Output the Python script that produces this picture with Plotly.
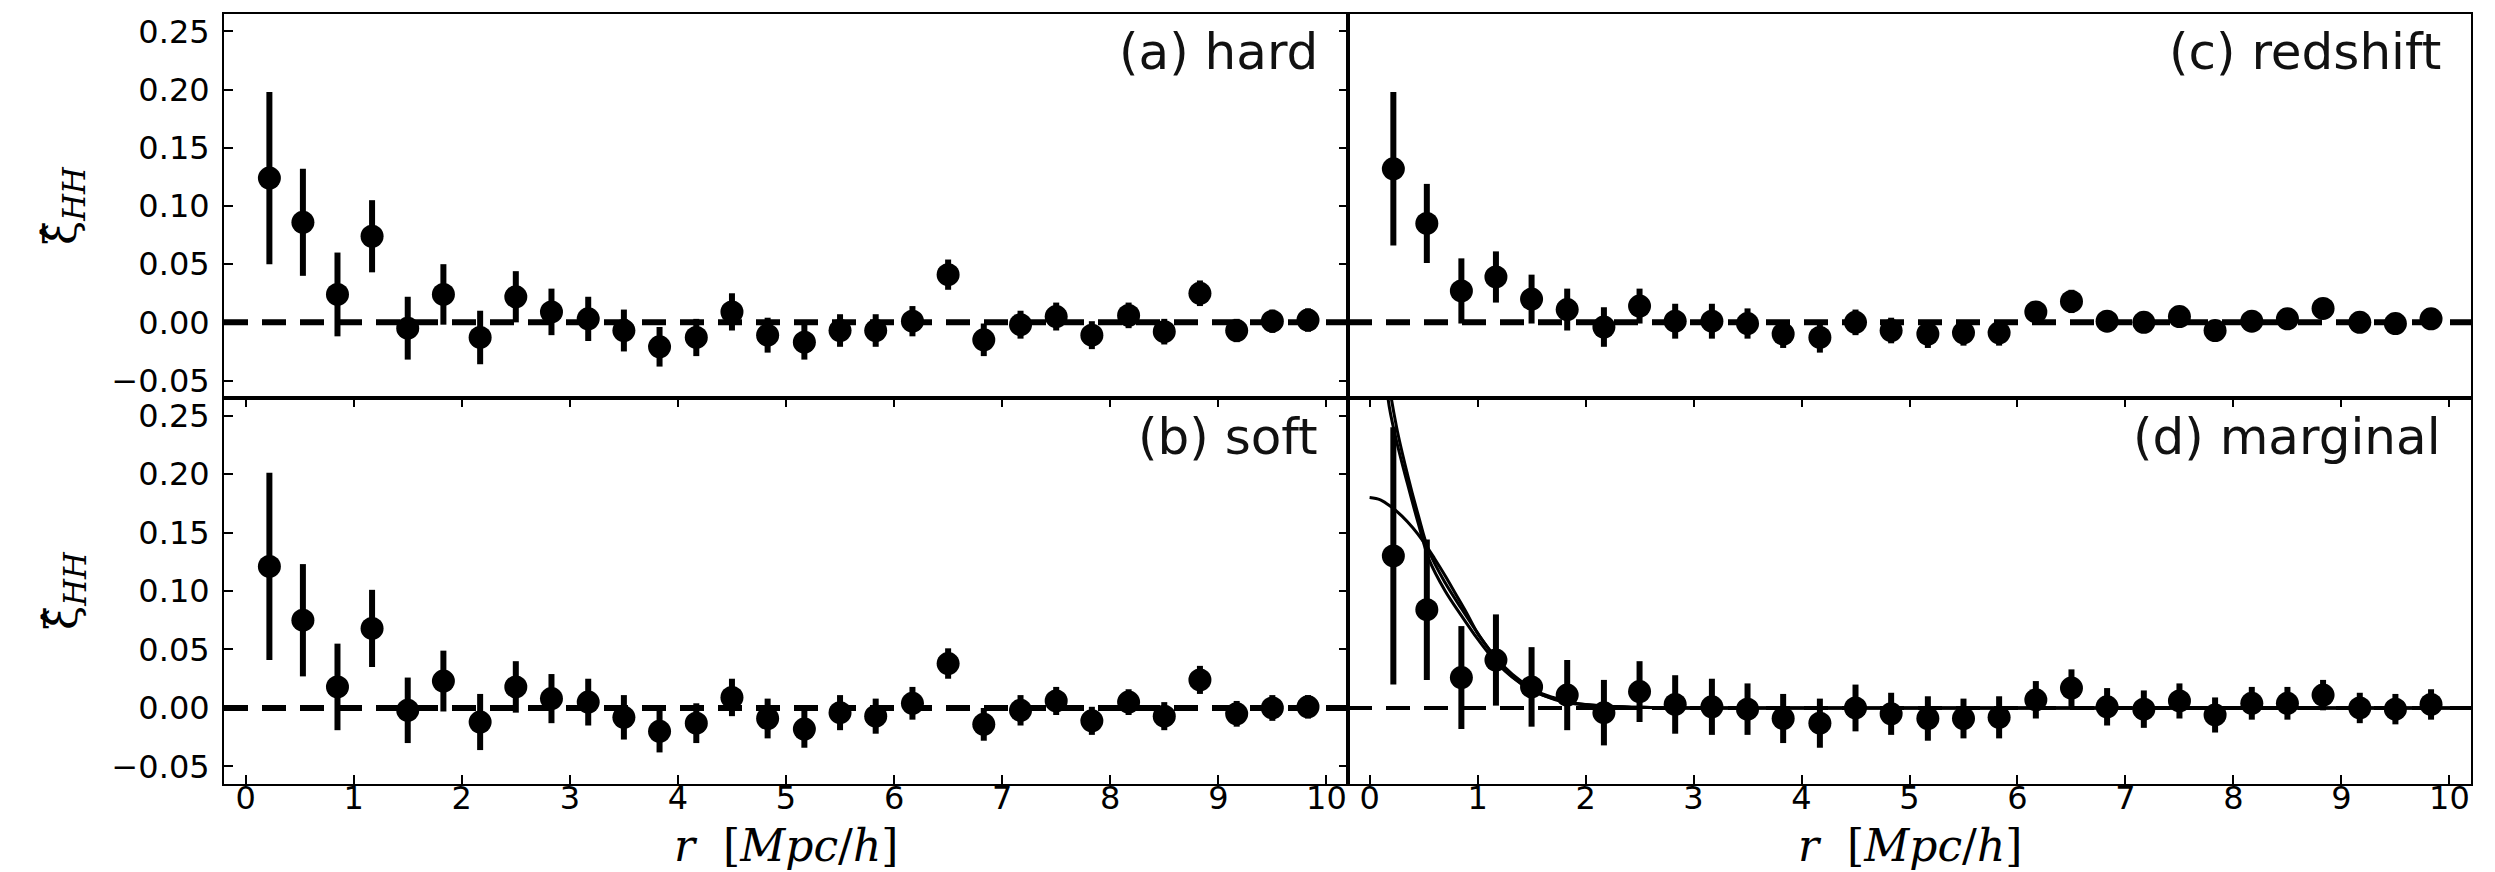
import plotly.graph_objects as go
from plotly.subplots import make_subplots

# separation bins [Mpc/h]
r_bins = [0.22, 0.53, 0.85, 1.17, 1.50, 1.83, 2.17, 2.50, 2.83, 3.17,
          3.50, 3.83, 4.17, 4.50, 4.83, 5.17, 5.50, 5.83, 6.17, 6.50,
          6.83, 7.17, 7.50, 7.83, 8.17, 8.50, 8.83, 9.17, 9.50, 9.83]

# (a) hard
xi_hard = [0.124, 0.086, 0.024, 0.074, -0.005, 0.024, -0.013, 0.022, 0.009, 0.003,
           -0.007, -0.021, -0.013, 0.009, -0.011, -0.017, -0.007, -0.007, 0.001, 0.041,
           -0.015, -0.002, 0.005, -0.011, 0.006, -0.008, 0.025, -0.007, 0.001, 0.002]
err_hard = [0.074, 0.046, 0.036, 0.031, 0.027, 0.026, 0.023, 0.022, 0.020, 0.019,
            0.018, 0.017, 0.016, 0.016, 0.015, 0.015, 0.014, 0.014, 0.013, 0.013,
            0.014, 0.012, 0.012, 0.012, 0.011, 0.011, 0.011, 0.010, 0.010, 0.010]

# (b) soft
xi_soft = [0.121, 0.075, 0.018, 0.068, -0.002, 0.023, -0.012, 0.018, 0.008, 0.005,
           -0.008, -0.020, -0.013, 0.009, -0.009, -0.018, -0.004, -0.007, 0.004, 0.038,
           -0.014, -0.002, 0.006, -0.011, 0.005, -0.007, 0.024, -0.005, 0.000, 0.001]
err_soft = [0.080, 0.048, 0.037, 0.033, 0.028, 0.026, 0.024, 0.022, 0.021, 0.020,
            0.019, 0.018, 0.017, 0.016, 0.017, 0.016, 0.015, 0.015, 0.014, 0.013,
            0.014, 0.013, 0.012, 0.012, 0.011, 0.012, 0.012, 0.011, 0.011, 0.010]

# (c) redshift
xi_redshift = [0.132, 0.085, 0.027, 0.039, 0.020, 0.011, -0.004, 0.014, 0.001, 0.001,
               -0.001, -0.010, -0.013, 0.000, -0.007, -0.010, -0.009, -0.009, 0.009, 0.018,
               0.001, 0.000, 0.005, -0.007, 0.001, 0.003, 0.012, 0.000, -0.001, 0.003]
err_redshift = [0.066, 0.034, 0.028, 0.022, 0.021, 0.018, 0.017, 0.015, 0.015, 0.015,
                0.013, 0.012, 0.013, 0.011, 0.011, 0.012, 0.011, 0.011, 0.009, 0.010,
                0.008, 0.008, 0.008, 0.007, 0.007, 0.007, 0.008, 0.007, 0.006, 0.006]

# (d) marginal
xi_marginal = [0.130, 0.084, 0.026, 0.041, 0.018, 0.011, -0.004, 0.014, 0.003, 0.001,
               -0.001, -0.009, -0.013, 0.000, -0.005, -0.009, -0.009, -0.008, 0.007, 0.017,
               0.001, -0.001, 0.006, -0.006, 0.004, 0.004, 0.011, 0.000, -0.001, 0.003]
err_marginal = [0.110, 0.060, 0.044, 0.039, 0.034, 0.030, 0.028, 0.026, 0.025, 0.024,
                0.022, 0.021, 0.021, 0.020, 0.018, 0.019, 0.017, 0.018, 0.016, 0.016,
                0.016, 0.016, 0.015, 0.015, 0.014, 0.014, 0.013, 0.013, 0.013, 0.013]

# model curves for the marginal panel
gauss_r = [0.0, 0.1, 0.2, 0.3, 0.4, 0.5, 0.6, 0.7, 0.8, 0.9, 1.0, 1.1, 1.2, 1.3,
           1.4, 1.5, 1.6, 1.8, 2.0, 2.2, 2.5, 3.0, 5.0, 10.2]
gauss_xi = [0.180, 0.178, 0.172, 0.164, 0.154, 0.142, 0.128, 0.113, 0.097, 0.081,
            0.064, 0.051, 0.039, 0.029, 0.021, 0.015, 0.011, 0.005, 0.0025, 0.001,
            0.0004, 0.0, 0.0, 0.0]
power_r = [0.12, 0.17, 0.25, 0.35, 0.45, 0.55, 0.70, 0.85, 1.0, 1.1, 1.25, 1.4,
           1.55, 1.7, 1.9, 2.2, 2.6, 3.0, 5.0, 10.2]
power_xi_1 = [0.340, 0.265, 0.228, 0.192, 0.158, 0.127, 0.100, 0.079, 0.059, 0.047,
              0.032, 0.021, 0.013, 0.008, 0.004, 0.0015, 0.0004, 0.0, 0.0, 0.0]
power_xi_2 = [0.360, 0.285, 0.240, 0.200, 0.165, 0.134, 0.107, 0.085, 0.064, 0.051,
              0.035, 0.023, 0.014, 0.009, 0.004, 0.0015, 0.0004, 0.0, 0.0, 0.0]

panels = [
    (1, 1, xi_hard, err_hard, "(a) hard"),
    (1, 2, xi_redshift, err_redshift, "(c) redshift"),
    (2, 1, xi_soft, err_soft, "(b) soft"),
    (2, 2, xi_marginal, err_marginal, "(d) marginal"),
]

x_ticks = list(range(0, 11))
y_ticks = [-0.05, 0.0, 0.05, 0.10, 0.15, 0.20, 0.25]

W, H = 2495, 872
L, R, T, B = 224, 24, 14, 88
PW, PH = W - L - R, H - T - B
x_split = (1348 - L) / PW
y_split = (784 - 398) / PH

fig = make_subplots(rows=2, cols=2, horizontal_spacing=0, vertical_spacing=0)

tick_font = dict(family="DejaVu Sans", size=32, color="black")
axis_ids = {(1, 1): "", (1, 2): "2", (2, 1): "3", (2, 2): "4"}

for row, col, vals, errs, label in panels:
    k = axis_ids[(row, col)]
    # dashed zero reference
    fig.add_shape(type="line", xref=f"x{k} domain", yref=f"y{k}",
                  x0=0, x1=1, y0=0, y1=0, layer="below",
                  line=dict(color="black", width=4 if (row, col) == (2, 2) else 6,
                            dash="24px,14px"))
    fig.add_trace(go.Scatter(
        x=r_bins, y=vals, mode="markers",
        marker=dict(color="black", size=23, line=dict(width=0)),
        error_y=dict(type="data", array=errs, visible=True,
                     color="black", thickness=6, width=0),
        showlegend=False, hoverinfo="skip"), row=row, col=col)

for ys, xs in [(gauss_xi, gauss_r), (power_xi_1, power_r), (power_xi_2, power_r)]:
    fig.add_trace(go.Scatter(
        x=xs, y=ys, mode="lines", line=dict(color="black", width=3, shape="spline"),
        showlegend=False, hoverinfo="skip"), row=2, col=2)

axis_common = dict(showline=True, linecolor="black", linewidth=2, mirror=True,
                   showgrid=False, zeroline=False, tickfont=tick_font,
                   ticklen=9, tickwidth=2, tickcolor="black")

for row in (1, 2):
    for col in (1, 2):
        xa = dict(axis_common, range=[-0.2, 10.2], tickvals=x_ticks)
        ya = dict(axis_common, range=[-0.065, 0.265], tickvals=y_ticks, tickformat=".2f")
        if row == 2:
            xa.update(ticks="inside", mirror="ticks", showticklabels=True,
                      ticklabelstandoff=-15)
        else:
            xa.update(ticks="", showticklabels=False)
        if col == 1:
            ya.update(ticks="inside", mirror="ticks", showticklabels=True,
                      ticklabelstandoff=6)
        else:
            ya.update(ticks="", showticklabels=False)
        xa["domain"] = [0, x_split] if col == 1 else [x_split, 1]
        ya["domain"] = [y_split, 1] if row == 1 else [0, y_split]
        fig.update_xaxes(xa, row=row, col=col)
        fig.update_yaxes(ya, row=row, col=col)

# panel captions
for row, col, vals, errs, label in panels:
    k = axis_ids[(row, col)]
    fig.add_annotation(text=label, xref=f"x{k} domain", yref=f"y{k} domain",
                       x=0.975, y=0.90, xanchor="right", yanchor="middle",
                       showarrow=False,
                       font=dict(family="DejaVu Sans", size=50, color="#111111"))

# axis titles
serif = dict(family="DejaVu Serif", size=44, color="black")
for yc in ((784 - 206) / PH, (784 - 591) / PH):
    fig.add_annotation(text="ξ\u0302<sub><i>HH</i></sub>", xref="paper", yref="paper",
                       x=(64 - L) / PW, y=yc, textangle=-90,
                       xanchor="center", yanchor="middle", showarrow=False, font=serif)
for xc in (x_split / 2, (1 + x_split) / 2):
    fig.add_annotation(text="<i>r</i>\u00a0\u00a0[<i>Mpc</i>/<i>h</i>]",
                       xref="paper", yref="paper", x=xc, y=(784 - 845) / PH,
                       xanchor="center", yanchor="middle", showarrow=False, font=serif)

fig.update_layout(width=W, height=H, margin=dict(l=L, r=R, t=T, b=B),
                  paper_bgcolor="white", plot_bgcolor="rgba(0,0,0,0)", showlegend=False)

fig.write_html("out.html")
